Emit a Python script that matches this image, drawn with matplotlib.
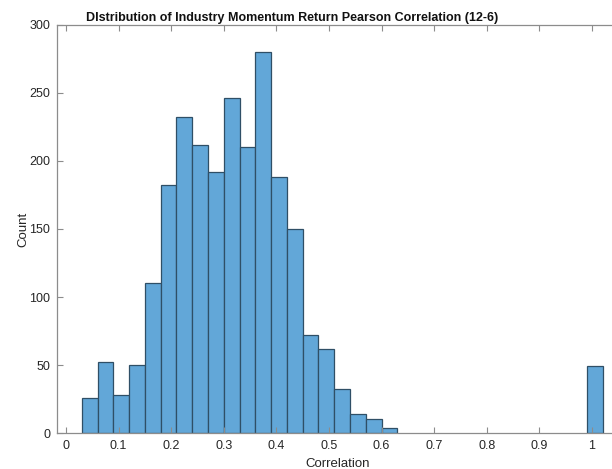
import matplotlib
matplotlib.use("Agg")
import matplotlib.pyplot as plt
from matplotlib.ticker import FuncFormatter

plt.rcParams['font.family'] = ['Liberation Sans', 'DejaVu Sans']

bin_left = [0.03, 0.06, 0.09, 0.12, 0.15, 0.18, 0.21, 0.24, 0.27, 0.30,
            0.33, 0.36, 0.39, 0.42, 0.45, 0.48, 0.51, 0.54, 0.57, 0.60, 0.99]
counts = [26, 52, 28, 50, 110, 182, 232, 212, 192, 246,
          210, 280, 188, 150, 72, 62, 32, 14, 10, 4, 49]
bin_width = 0.03
xticks = [0, 0.1, 0.2, 0.3, 0.4, 0.5, 0.6, 0.7, 0.8, 0.9, 1.0]
yticks = [0, 50, 100, 150, 200, 250, 300]

fig = plt.figure(figsize=(6.12, 4.69), dpi=100)
ax = fig.add_axes([57/612, 36/469, 1 - 57/612 + 0.01, (433-25)/469])

ax.bar(bin_left, counts, width=bin_width, align='edge',
       color='#62a7d8', edgecolor='#2f4f66', linewidth=0.9)

ax.set_xlim(-0.0171, 1.038 + 0.01 * 612 / 526)
ax.set_ylim(0, 300)
ax.set_xticks(xticks)
ax.set_yticks(yticks)
ax.xaxis.set_major_formatter(FuncFormatter(lambda v, p: f"{v:g}"))
ax.tick_params(direction='in', length=4, width=0.8, colors='#8c8c8c',
               labelcolor='#262626', labelsize=9, top=True, right=False,
               pad=5)
for s in ax.spines.values():
    s.set_color('#8c8c8c')
    s.set_linewidth(0.9)
ax.spines['right'].set_visible(False)

ax.set_xlabel('Correlation', fontsize=9.5, color='#262626', labelpad=4)
ax.set_ylabel('Count', fontsize=9.5, color='#262626', labelpad=0)
ax.set_title('DIstribution of Industry Momentum Return Pearson Correlation (12-6)',
             fontsize=9, fontweight='bold', color='#111111',
             x=(292-57)/(555+6), pad=3)

fig.savefig('out.png', dpi=100)
